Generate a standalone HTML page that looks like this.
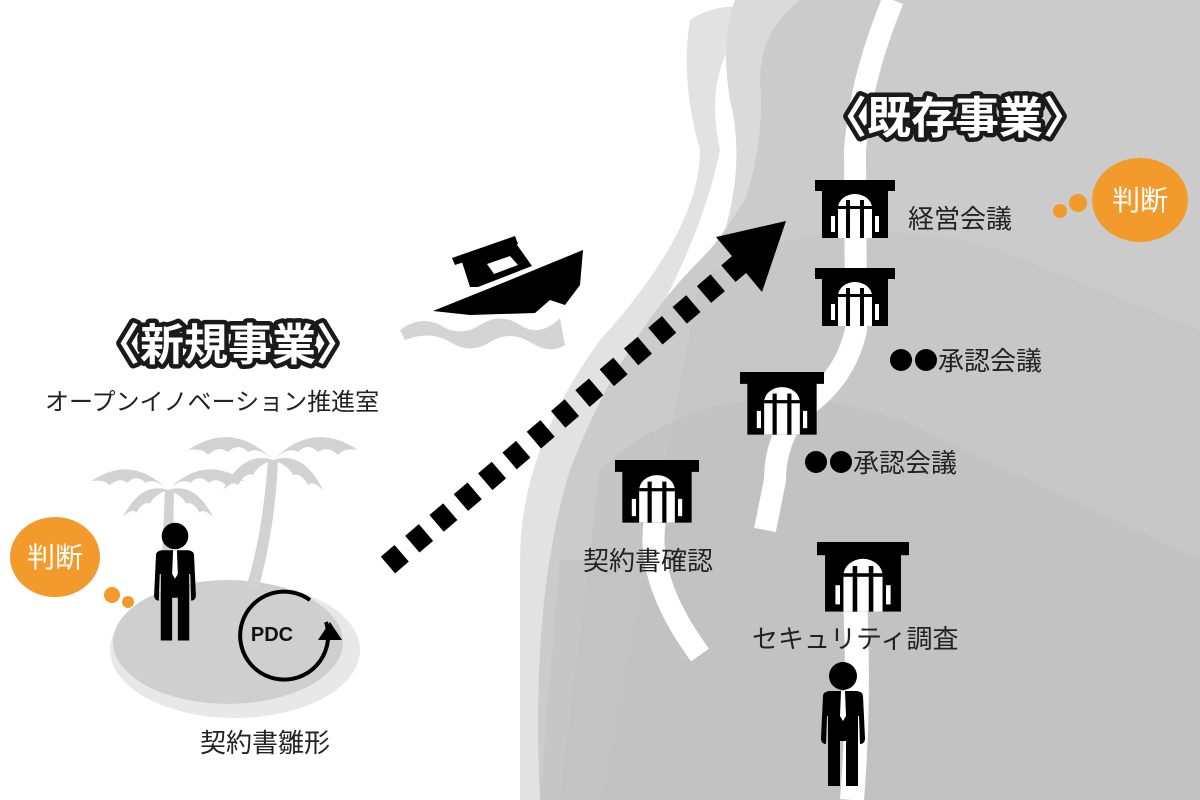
<!DOCTYPE html>
<html><head><meta charset="utf-8"><style>
html,body{margin:0;padding:0;background:#fff;width:1200px;height:800px;overflow:hidden}
svg text{font-family:"Liberation Sans","Noto Sans CJK JP",sans-serif}
</style></head><body>
<svg width="1200" height="800" viewBox="0 0 1200 800" xmlns="http://www.w3.org/2000/svg">
<defs>
<g id="bld">
<rect x="-40" y="0" width="80" height="11" fill="#000"/>
<rect x="-33" y="10" width="66" height="48" fill="#000"/>
<path d="M-17 58 V28 A17 14 0 0 1 17 28 V58 Z" fill="#fff"/>
<rect x="-9" y="20" width="4" height="38" fill="#000"/>
<rect x="5" y="20" width="4" height="38" fill="#000"/>
<rect x="-17" y="26" width="34" height="3" fill="#000"/>
<rect x="-24" y="36" width="4" height="16" fill="#fff"/>
<rect x="20" y="36" width="4" height="16" fill="#fff"/>
</g>
<g id="man">
<circle cx="0" cy="0" r="14" fill="#000"/>
<path d="M-20 20 Q-20 16 -14 15 L14 15 Q20 16 20 20 L22 62 Q22 68 17 68 L16 40 L15 40 L15 110 L3 110 L3 65 L-3 65 L-3 110 L-15 110 L-15 40 L-16 40 L-17 68 Q-22 68 -22 62 Z" fill="#000"/>
<path d="M-2 15 L2 15 L3 40 L0 45 L-3 40 Z" fill="#fff"/>
</g>
<g id="frond" fill="#d2d2d2">
<path d="M0 0 Q-40 -40 -85 -10 Q-70 -12 -65 -5 Q-55 -15 -45 -8 Q-35 -18 -25 -8 Q-15 -14 0 0Z"/>
<path d="M0 0 Q40 -40 85 -10 Q70 -12 65 -5 Q55 -15 45 -8 Q35 -18 25 -8 Q15 -14 0 0Z"/>
<path d="M0 0 Q-30 -10 -50 30 Q-40 20 -35 25 Q-28 12 -20 15 Q-15 5 0 0Z"/>
<path d="M0 0 Q30 -10 50 30 Q40 20 35 25 Q28 12 20 15 Q15 5 0 0Z"/>
</g>
</defs>
<!-- mainland layers -->
<path d="M690 20 Q720 0 760 10 Q700 60 720 150 Q700 250 620 380 Q560 470 560 560 L540 800 L520 800 L520 560 Q520 450 600 340 Q700 230 700 150 Q680 80 690 20 Z" fill="#e2e2e2"/>
<path d="M740 0 L1200 0 L1200 800 L540 800 Q530 600 570 470 Q620 340 700 260 Q760 200 750 120 Q735 40 740 0 Z" fill="#cbcbcb"/>
<path d="M735 0 L800 0 Q760 30 760 80 Q765 140 745 200 L725 230 Q745 160 730 100 Q720 40 735 0Z" fill="#dadada"/>
<!-- hills -->
<path d="M700 280 Q820 200 1000 250 L1200 330 L1200 800 L600 800 Z" fill="#c4c4c4" opacity="0.6"/>
<path d="M600 470 Q720 360 900 420 L1200 560 L1200 800 L560 800 Z" fill="#bdbdbd" opacity="0.5"/>
<path d="M560 560 Q700 560 800 560 Q900 500 1100 640 L1200 700 L1200 800 L540 800Z" fill="#c2c2c2" opacity="0.5"/>
<!-- river -->
<path d="M893 0 Q860 80 855 150 L856 330 Q845 380 800 410 Q775 440 775 480 L765 530" stroke="#fff" stroke-width="22" fill="none"/>
<path d="M655 520 Q645 580 700 655" stroke="#fff" stroke-width="22" fill="none"/>
<path d="M855 600 Q860 700 852 800" stroke="#fff" stroke-width="24" fill="none"/>
<!-- buildings -->
<use href="#bld" transform="translate(855,180)"/>
<use href="#bld" transform="translate(855,268)"/>
<use href="#bld" transform="translate(782,372) scale(1.05 1.08)"/>
<use href="#bld" transform="translate(657,460) scale(1.05 1.08)"/>
<use href="#bld" transform="translate(863,542) scale(1.15 1.2)"/>
<use href="#man" transform="translate(843,676)"/>
<!-- labels right -->
<g font-size="26" fill="#222">
<text x="908" y="228">経営会議</text>
<text x="938" y="370">承認会議</text>
<text x="853" y="472">承認会議</text>
<text x="583" y="570">契約書確認</text>
<text x="752" y="648">セキュリティ調査</text>
</g>
<g fill="#000">
<circle cx="901" cy="360" r="11"/><circle cx="926" cy="360" r="11"/>
<circle cx="816" cy="462" r="11"/><circle cx="841" cy="462" r="11"/>
</g>
<circle cx="1060" cy="211" r="7" fill="#f39a2c"/>
<circle cx="1078" cy="203" r="9" fill="#f39a2c"/>
<ellipse cx="1140" cy="200" rx="48" ry="42" fill="#f39a2c"/>
<text x="1140" y="210" font-size="28" fill="#fff" text-anchor="middle">判断</text>
<text x="955" y="133" font-size="44" font-weight="bold" text-anchor="middle" fill="#fff" stroke="#1a1a1a" stroke-width="9" paint-order="stroke" stroke-linejoin="round">〈既存事業〉</text>
<!-- waves & boat -->
<path d="M400 330 Q420 315 440 325 Q460 338 480 325 Q500 312 520 325 Q540 338 560 318 L565 345 Q550 355 530 342 Q510 330 490 342 Q470 355 450 342 Q430 330 405 340 Z" fill="#d4d4d4"/>
<path d="M433 311 L505 282 L583 250 L580 285 L565 305 L550 300 L535 313 L470 315 Z" fill="#000"/>
<path d="M462 262 L515 242 L532 266 L478 287 L470 287 Z" fill="#000"/>
<path d="M452 258 L515 236 L518 244 L455 265Z" fill="#000"/>
<path d="M487 264 L510 256 L518 265 L494 274Z" fill="#fff"/>
<!-- dotted arrow -->
<line x1="388" y1="565" x2="742" y2="262" stroke="#000" stroke-width="22" stroke-dasharray="18 14"/>
<path d="M786 221 L716 237 L762 292 Z" fill="#000"/>
<!-- island -->
<ellipse cx="235" cy="650" rx="125" ry="68" fill="#e8e8e8"/>
<ellipse cx="228" cy="642" rx="115" ry="62" fill="#cfcfcf"/>
<path d="M268 460 Q262 540 245 590 L258 590 Q275 530 278 460 Z" fill="#d2d2d2"/>
<use href="#frond" transform="translate(273,460)"/>
<path d="M165 490 L160 600 L172 600 L174 490 Z" fill="#d2d2d2"/>
<use href="#frond" transform="translate(168,490) scale(0.9)"/>
<use href="#man" transform="translate(175,536) scale(0.95 0.95)"/>
<path d="M326 622 A44 44 0 1 1 310 600" fill="none" stroke="#000" stroke-width="4"/>
<path d="M318 640 L330 622 L342 640 Z" fill="#000"/>
<text x="272" y="641" font-size="20" font-weight="bold" text-anchor="middle" fill="#111">PDC</text>
<ellipse cx="55" cy="557" rx="45" ry="40" fill="#f39a2c"/>
<circle cx="112" cy="595" r="8" fill="#f39a2c"/>
<circle cx="128" cy="602" r="6" fill="#f39a2c"/>
<text x="55" y="567" font-size="28" fill="#fff" text-anchor="middle">判断</text>
<text x="228" y="360" font-size="44" font-weight="bold" text-anchor="middle" fill="#fff" stroke="#1a1a1a" stroke-width="9" paint-order="stroke" stroke-linejoin="round">〈新規事業〉</text>
<text x="45" y="410" font-size="24" fill="#222">オープンイノベーション推進室</text>
<text x="200" y="752" font-size="26" fill="#222">契約書雛形</text>
</svg>
</body></html>
